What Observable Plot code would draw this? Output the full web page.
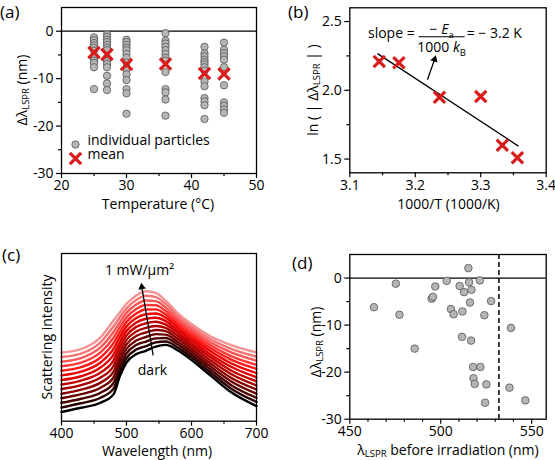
<!DOCTYPE html>
<html><head><meta charset="utf-8">
<script src="https://cdn.jsdelivr.net/npm/d3@7"></script>
<script src="https://cdn.jsdelivr.net/npm/@observablehq/plot@0.6"></script>
<style>
html,body{margin:0;padding:0;background:#fff;}
#fig{position:relative;width:555px;height:460px;overflow:hidden;background:#fff;}
#fig svg{position:absolute;overflow:visible;}
</style></head><body><div id="fig"></div>
<script>
// ---------- (a) data ----------
const temps = [25, 27, 30, 36, 42, 45];
const shifts25 = [-1.3, -1.9, -2.5, -3.0, -3.5, -4.1, -5.6, -6.2, -6.7, -7.6, -12.2];
const shifts27 = [-0.7, -1.2, -1.8, -2.3, -2.9, -3.5, -4.0, -5.6, -6.3, -6.9, -7.6, -9.4, -11.0, -12.4];
const shifts30 = [-1.8, -2.3, -2.9, -3.5, -4.0, -4.8, -5.6, -6.6, -7.9, -9.1, -10.3, -12.2, -13.1, -17.4];
const shifts36 = [-0.4, -2.0, -2.6, -3.3, -4.0, -4.8, -5.6, -6.2, -8.6, -12.2, -12.9, -14.4, -17.8];
const shifts42 = [-3.3, -4.7, -5.3, -6.0, -6.5, -7.0, -7.6, -8.3, -10.6, -11.6, -14.1, -14.8, -15.6, -18.5];
const shifts45 = [-2.4, -3.9, -4.6, -5.3, -6.0, -7.6, -11.4, -15.0, -15.7, -16.5, -17.2];
const meanShift = [-4.5, -4.9, -7.0, -6.9, -8.9, -9.0];
const xTicksA = [20, 30, 40, 50], xMinorA = [25, 35, 45];
const yTicksA = [0, -10, -20, -30], yMinorA = [-5, -15, -25];

// ---------- (b) data ----------
const invT = [3.145, 3.175, 3.237, 3.300, 3.333, 3.356];
const lnShift = [2.21, 2.20, 1.95, 1.955, 1.60, 1.51];
const fitInvT = [3.143, 3.357];
const fitLn = [2.265, 1.596];
const xTicksB = [3.1, 3.2, 3.3, 3.4], xMinorB = [3.15, 3.25, 3.35];
const yTicksB = [1.5, 2.0, 2.5], yMinorB = [1.75, 2.25];
const arrowB = {x1: 3.2186, y1: 2.077, x2: 3.2295, y2: 2.225};
const slopeAnchor = {x: 3.2411, y: 2.386};

// ---------- (c) data ----------
const wavelengths = [400, 430, 460, 480, 490, 500, 515, 530, 545, 560, 580, 600, 630, 660, 700];
const spectra = [
  [0.055,0.080,0.110,0.160,0.270,0.350,0.400,0.420,0.445,0.455,0.420,0.365,0.270,0.175,0.090],
  [0.082,0.107,0.140,0.194,0.299,0.377,0.427,0.447,0.470,0.475,0.437,0.382,0.288,0.197,0.115],
  [0.110,0.134,0.170,0.228,0.329,0.404,0.454,0.475,0.494,0.496,0.454,0.398,0.306,0.218,0.139],
  [0.137,0.161,0.200,0.262,0.358,0.431,0.481,0.502,0.519,0.516,0.471,0.415,0.324,0.240,0.164],
  [0.164,0.188,0.230,0.295,0.387,0.458,0.508,0.529,0.544,0.537,0.488,0.431,0.342,0.261,0.189],
  [0.192,0.215,0.260,0.329,0.416,0.485,0.535,0.557,0.568,0.557,0.505,0.448,0.360,0.283,0.213],
  [0.219,0.242,0.290,0.363,0.446,0.512,0.562,0.584,0.593,0.577,0.522,0.464,0.379,0.304,0.238],
  [0.246,0.268,0.320,0.397,0.474,0.538,0.588,0.611,0.617,0.598,0.538,0.481,0.396,0.326,0.262],
  [0.273,0.295,0.350,0.431,0.504,0.565,0.615,0.638,0.642,0.618,0.555,0.497,0.415,0.347,0.287],
  [0.301,0.322,0.380,0.465,0.533,0.592,0.642,0.666,0.667,0.638,0.572,0.514,0.433,0.369,0.312],
  [0.328,0.349,0.410,0.498,0.562,0.619,0.669,0.693,0.691,0.659,0.589,0.530,0.451,0.390,0.336],
  [0.355,0.376,0.440,0.532,0.591,0.646,0.696,0.720,0.716,0.679,0.606,0.547,0.469,0.412,0.361],
  [0.383,0.403,0.470,0.566,0.621,0.673,0.723,0.748,0.740,0.700,0.623,0.563,0.487,0.433,0.385],
  [0.410,0.430,0.500,0.600,0.650,0.700,0.750,0.775,0.765,0.720,0.640,0.580,0.505,0.455,0.410]
];
const spectrumColors = ["#000000","#2a0000","#4a0000","#6a0000","#8c0000","#aa0000","#c40000",
  "#de0000","#f00000","#ff1a1a","#ff3838","#f85656","#f47474","#f29494"];
const xTicksC = [400, 500, 600, 700], xMinorC = [450, 550, 650];
const arrowC = {x1: 541, y1: 0.393, x2: 523.6, y2: 0.80};
const labelPower = {x: 520, y: 0.90, text: "1 mW/µm²"};
const labelDark = {x: 540, y: 0.30, text: "dark"};

// ---------- (d) data ----------
const lsprBefore = [463.3, 475.3, 477.3, 485.7, 495.0, 495.7, 497.0, 503.3, 505.6, 507.1, 510.4, 511.9, 511.7, 512.8,
  515.2, 515.6, 516.9, 516.1, 516.7, 517.8, 518.0, 518.7, 521.5, 521.8, 524.0, 525.1, 524.4, 527.7, 538.6, 537.8, 546.5];
const shiftD = [-6.2, -1.2, -7.8, -15.0, -4.4, -4.0, -1.8, -0.6, -6.6, -7.7, -1.7, -7.1, -12.5, -3.0,
  2.1, -0.9, -2.5, -5.2, -13.3, -18.9, -21.3, -22.5, -0.5, -18.9, -7.9, -22.6, -26.5, -4.9, -10.6, -23.3, -26.0];
const laserLine = [532];
const xTicksD = [450, 500, 550], xMinorD = [460, 470, 480, 490, 510, 520, 530, 540];
const yTicksD = [0, -10, -20, -30], yMinorD = [-5, -15, -25];

// ---------- helpers ----------
const FONT = '"Open Sans", sans-serif';
const FS = 14;
const RED = "#d81c1c";
const style = {fontFamily: FONT, fontSize: FS + "px", color: "#000", background: "transparent", overflow: "visible"};
const fig = document.getElementById("fig");

function place(svg, left, top) {
  svg.style.left = left + "px"; svg.style.top = top + "px";
  fig.appendChild(svg);
  return svg;
}
function rich(svg, x, y, parts, opt = {}) {
  const size = opt.size || FS;
  const t = d3.select(svg).append("text")
    .attr("transform", `translate(${x},${y}) rotate(${opt.rotate || 0})`)
    .attr("text-anchor", opt.anchor || "middle")
    .attr("font-family", FONT).attr("font-size", size).attr("fill", "#000");
  if (opt.baseline) t.attr("dominant-baseline", opt.baseline);
  let shift = 0;
  for (const p of parts) {
    const [str, kind] = typeof p === "string" ? [p, ""] : p;
    const ts = t.append("tspan").text(str);
    const target = kind.includes("sub") ? 0.32 * size : kind.includes("sup") ? -0.4 * size : 0;
    if (target - shift !== 0) ts.attr("dy", target - shift);
    shift = target;
    if (kind.includes("sub") || kind.includes("sup")) ts.attr("font-size", size * 0.68);
    if (kind.includes("i")) ts.attr("font-style", "italic");
  }
  return t;
}
const axes = (xt, xm, yt, ym, fmtX, fmtY) => [
  Plot.axisX({ticks: xt, tickSize: 5, tickPadding: 2, tickFormat: fmtX, label: null, strokeWidth: 1.2}),
  Plot.axisX({ticks: xm, tickSize: 3, tickFormat: () => "", label: null, strokeWidth: 1.2}),
  ...(yt ? [
    Plot.axisY({ticks: yt, tickSize: 5, tickPadding: 3, tickFormat: fmtY, label: null, strokeWidth: 1.2}),
    Plot.axisY({ticks: ym, tickSize: 3, tickFormat: () => "", label: null, strokeWidth: 1.2})
  ] : [])
];

// ---------- (a) ----------
const shiftsByT = [shifts25, shifts27, shifts30, shifts36, shifts42, shifts45];
const pointsA = temps.flatMap((t, i) => shiftsByT[i].map(s => ({t, s})));
const meansA = temps.map((t, i) => ({t, s: meanShift[i]}));
const pa = Plot.plot({
  width: 275, height: 230, marginLeft: 61, marginRight: 19, marginTop: 7, marginBottom: 57,
  style,
  x: {domain: [20, 50]}, y: {domain: [-30, 5]},
  marks: [
    ...axes(xTicksA, xMinorA, yTicksA, yMinorA, d => String(d), d => String(d)),
    Plot.ruleY([0], {stroke: "#000", strokeWidth: 1.2}),
    Plot.dot(pointsA, {x: "t", y: "s", r: 3.7, fill: "#b5b5b5", stroke: "#555", strokeWidth: 0.8}),
    Plot.dot(meansA, {x: "t", y: "s", symbol: "times", r: 5.2, stroke: RED, strokeWidth: 3.2}),
    Plot.dot([0], {frameAnchor: "bottom-left", dx: 14, dy: -29, r: 3.7, fill: "#b5b5b5", stroke: "#555", strokeWidth: 0.8}),
    Plot.dot([0], {frameAnchor: "bottom-left", dx: 14, dy: -15, symbol: "times", r: 5.2, stroke: RED, strokeWidth: 3.2}),
    Plot.text(["individual particles"], {frameAnchor: "bottom-left", dx: 26, dy: -29, textAnchor: "start", fontSize: FS}),
    Plot.text(["mean"], {frameAnchor: "bottom-left", dx: 26, dy: -15, textAnchor: "start", fontSize: FS}),
    Plot.frame({stroke: "#000", strokeWidth: 1.3})
  ]
});
place(pa, 0, 0);
rich(pa, 0, 18, ["(a)"], {anchor: "start", size: 17});
rich(pa, 21, 90, ["Δλ", ["LSPR", "sub"], " (nm)"], {rotate: -90, baseline: "central"});
rich(pa, 158, 203, ["Temperature (°C)"], {baseline: "central"});

// ---------- (b) ----------
const pointsB = invT.map((x, i) => ({x, y: lnShift[i]}));
const fitB = fitInvT.map((x, i) => ({x, y: fitLn[i]}));
const fmt1 = d3.format(".1f");
const pb = Plot.plot({
  width: 275, height: 230, marginLeft: 69.3, marginRight: 9.3, marginTop: 7.3, marginBottom: 57.7,
  style,
  x: {domain: [3.1, 3.4]}, y: {domain: [1.4, 2.6]},
  marks: [
    ...axes(xTicksB, xMinorB, yTicksB, yMinorB, fmt1, fmt1),
    Plot.line(fitB, {x: "x", y: "y", stroke: "#000", strokeWidth: 1.3}),
    Plot.dot(pointsB, {x: "x", y: "y", symbol: "times", r: 5.2, stroke: RED, strokeWidth: 3.2}),
    Plot.link([arrowB], {x1: "x1", y1: "y1", x2: "x2", y2: "y2", stroke: "#000", strokeWidth: 1.3}),
    Plot.dot([arrowB], {x: "x2", y: "y2", symbol: "triangle", r: 2.8, fill: "#000", rotate: 18}),
    Plot.frame({stroke: "#000", strokeWidth: 1.3})
  ]
});
place(pb, 280, 0);
rich(pb, 8, 18, ["(b)"], {anchor: "start", size: 17});
rich(pb, 32, 90, ["ln ( | Δλ", ["LSPR", "sub"], " | )"], {rotate: -90, baseline: "central"});
rich(pb, 168.5, 203, ["1000/T (1000/K)"], {baseline: "central"});
{
  const ax = pb.scale("x").apply(slopeAnchor.x), ay = pb.scale("y").apply(slopeAnchor.y);
  rich(pb, ax - 27, ay + 1, ["slope ="], {anchor: "end"});
  rich(pb, ax, ay - 3, ["− ", ["E", "i"], ["a", "sub"]]);
  rich(pb, ax, ay + 15, ["1000 ", ["k", "i"], ["B", "sub"]]);
  rich(pb, ax + 25, ay + 1, ["= − 3.2 K"], {anchor: "start"});
  d3.select(pb).append("line").attr("x1", ax - 23).attr("x2", ax + 23).attr("y1", ay).attr("y2", ay)
    .attr("stroke", "#000").attr("stroke-width", 1.2);
}

// ---------- (c) ----------
const rowsC = [];
for (let k = spectra.length - 1; k >= 0; k--) {
  spectra[k].forEach((v, j) => rowsC.push({w: wavelengths[j], v, k}));
}
const pc = Plot.plot({
  width: 275, height: 230, marginLeft: 61, marginRight: 19, marginTop: 23, marginBottom: 39.3,
  style,
  x: {domain: [400, 700]}, y: {domain: [0, 1], axis: null},
  color: {type: "ordinal", domain: d3.range(spectra.length), range: spectrumColors},
  marks: [
    ...axes(xTicksC, xMinorC, null, null, d => String(d), null),
    Plot.line(rowsC, {x: "w", y: "v", z: "k", stroke: "k", strokeWidth: 2.4, curve: "monotone-x"}),
    Plot.link([arrowC], {x1: "x1", y1: "y1", x2: "x2", y2: "y2", stroke: "#000", strokeWidth: 1.3}),
    Plot.dot([arrowC], {x: "x2", y: "y2", symbol: "triangle", r: 2.8, fill: "#000", rotate: -9}),
    Plot.text([labelPower], {x: "x", y: "y", text: "text", fontSize: FS}),
    Plot.text([labelDark], {x: "x", y: "y", text: "text", fontSize: FS}),
    Plot.frame({stroke: "#000", strokeWidth: 1.3})
  ]
});
place(pc, 0, 230);
rich(pc, 2, 31, ["(c)"], {anchor: "start", size: 17});
rich(pc, 46, 107, ["Scattering intensity"], {rotate: -90, baseline: "central"});
rich(pc, 157, 220, ["Wavelength (nm)"], {baseline: "central"});

// ---------- (d) ----------
const pointsD = lsprBefore.map((x, i) => ({x, y: shiftD[i]}));
const pd = Plot.plot({
  width: 275, height: 230, marginLeft: 69.3, marginRight: 9.3, marginTop: 24, marginBottom: 41.3,
  style,
  x: {domain: [450, 558]}, y: {domain: [-30, 5]},
  marks: [
    ...axes(xTicksD, xMinorD, yTicksD, yMinorD, d => String(d), d => String(d)),
    Plot.ruleY([0], {stroke: "#000", strokeWidth: 1.2}),
    Plot.ruleX(laserLine, {stroke: "#000", strokeWidth: 1.5, strokeDasharray: "5,3"}),
    Plot.dot(pointsD, {x: "x", y: "y", r: 3.8, fill: "#b5b5b5", stroke: "#555", strokeWidth: 0.8}),
    Plot.frame({stroke: "#000", strokeWidth: 1.3})
  ]
});
place(pd, 280, 230);
rich(pd, 12, 39, ["(d)"], {anchor: "start", size: 17});
rich(pd, 35, 112, ["Δλ", ["LSPR", "sub"], " (nm)"], {rotate: -90, baseline: "central"});
rich(pd, 168, 219, ["λ", ["LSPR", "sub"], " before irradiation (nm)"], {baseline: "central"});
</script></body></html>
